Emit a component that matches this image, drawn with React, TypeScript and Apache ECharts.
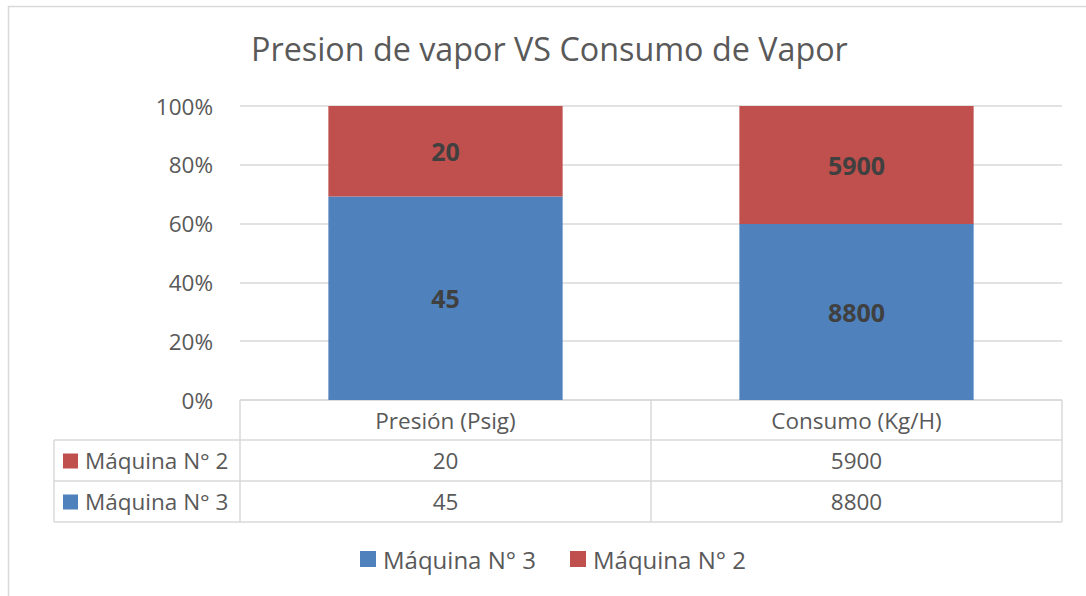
import React, { useEffect, useRef } from "react";
import * as echarts from "echarts";

const categories = ["Presión (Psig)", "Consumo (Kg/H)"];
const seriesNames = ["Máquina N° 3", "Máquina N° 2"];
const maquina3 = [45, 8800];
const maquina2 = [20, 5900];
const yTicks = ["0%", "20%", "40%", "60%", "80%", "100%"];
const colors = ["#4f81bd", "#c0504d"];

const FONT = "'Open Sans', sans-serif";
const TXT = "#595959";
const LINE = "#d9d9d9";

export default function App() {
  const ref = useRef<HTMLDivElement>(null);
  useEffect(() => {
    document.body.style.margin = "0";
    if (!ref.current) return;
    const chart = echarts.init(ref.current, undefined, { renderer: "svg" });
    const totals = maquina3.map((v, i) => v + maquina2[i]);
    const pct = (arr: number[]) => arr.map((v, i) => (v / totals[i]) * 100);

    const gridL = 240, gridR = 1062, gridT = 106, gridB = 400;
    const colW = (gridR - gridL) / categories.length;
    const rowH = [40, 41, 41];
    const tableLeft = 54;
    const rowsY = [gridB, gridB + rowH[0], gridB + rowH[0] + rowH[1], gridB + rowH[0] + rowH[1] + rowH[2]];
    const tableRows = [
      { name: seriesNames[1], color: colors[1], values: maquina2 },
      { name: seriesNames[0], color: colors[0], values: maquina3 },
    ];
    const tFont = `22.5px ${FONT}`;

    const graphics: any[] = [];
    graphics.push({ type: "rect", shape: { x: 8.5, y: 6.5, width: 1100, height: 620 }, style: { fill: "none", stroke: LINE, lineWidth: 1.5 }, silent: true });
    graphics.push({ type: "line", shape: { x1: gridL, y1: rowsY[0], x2: gridR, y2: rowsY[0] }, style: { stroke: LINE, lineWidth: 1.5 } });
    for (let r = 1; r < rowsY.length; r++) {
      graphics.push({ type: "line", shape: { x1: tableLeft, y1: rowsY[r], x2: gridR, y2: rowsY[r] }, style: { stroke: LINE, lineWidth: 1.5 } });
    }
    for (let c = 0; c <= categories.length; c++) {
      const x = gridL + c * colW;
      graphics.push({ type: "line", shape: { x1: x, y1: rowsY[0], x2: x, y2: rowsY[3] }, style: { stroke: LINE, lineWidth: 1.5 } });
    }
    graphics.push({ type: "line", shape: { x1: tableLeft, y1: rowsY[1], x2: tableLeft, y2: rowsY[3] }, style: { stroke: LINE, lineWidth: 1.5 } });
    categories.forEach((c, i) => {
      graphics.push({ type: "text", x: gridL + (i + 0.5) * colW, y: (rowsY[0] + rowsY[1]) / 2, style: { text: c, fill: TXT, font: tFont, align: "center", verticalAlign: "middle" } });
    });
    tableRows.forEach((row, r) => {
      const cy = (rowsY[r + 1] + rowsY[r + 2]) / 2;
      graphics.push({ type: "rect", shape: { x: 63, y: cy - 7, width: 15, height: 15 }, style: { fill: row.color } });
      graphics.push({ type: "text", x: 85, y: cy, style: { text: row.name, fill: TXT, font: tFont, align: "left", verticalAlign: "middle" } });
      row.values.forEach((v, i) => {
        graphics.push({ type: "text", x: gridL + (i + 0.5) * colW, y: cy, style: { text: String(v), fill: TXT, font: tFont, align: "center", verticalAlign: "middle" } });
      });
    });

    const mkSeries = (name: string, raw: number[], color: string) => ({
      name,
      type: "bar",
      stack: "total",
      barWidth: "57%",
      data: pct(raw),
      itemStyle: { color },
      label: {
        show: true,
        position: "inside",
        formatter: (p: any) => String(raw[p.dataIndex]),
        color: "#404040",
        fontFamily: FONT,
        fontWeight: "bold",
        fontSize: 25,
      },
    });

    chart.setOption({
      animation: false,
      backgroundColor: "#ffffff",
      title: {
        text: "Presion de vapor VS Consumo de Vapor",
        left: 246,
        top: 27,
        textStyle: { color: TXT, fontFamily: FONT, fontWeight: "normal", fontSize: 32.3 },
      },
      legend: {
        data: seriesNames,
        bottom: 20,
        left: 355,
        itemWidth: 16,
        itemHeight: 16,
        itemGap: 34,
        icon: "rect",
        textStyle: { color: TXT, fontFamily: FONT, fontSize: 24, padding: [0, 0, 0, 2] },
      },
      grid: { left: gridL, right: 1086 - gridR, top: gridT, bottom: 596 - gridB, containLabel: false },
      xAxis: {
        type: "category",
        data: categories,
        axisLine: { show: false },
        axisTick: { show: false },
        axisLabel: { show: false },
      },
      yAxis: {
        type: "value",
        min: 0,
        max: 100,
        interval: 20,
        axisLine: { show: false },
        axisTick: { show: false },
        splitLine: { lineStyle: { color: LINE, width: 1.5 } },
        axisLabel: {
          formatter: (v: number) => yTicks[Math.round(v / 20)],
          color: TXT,
          fontFamily: FONT,
          fontSize: 22.5,
          margin: 27,
        },
      },
      series: [mkSeries(seriesNames[0], maquina3, colors[0]), mkSeries(seriesNames[1], maquina2, colors[1])],
      graphic: graphics,
    });
    return () => chart.dispose();
  }, []);
  return <div ref={ref} style={{ width: 1086, height: 596 }} />;
}
